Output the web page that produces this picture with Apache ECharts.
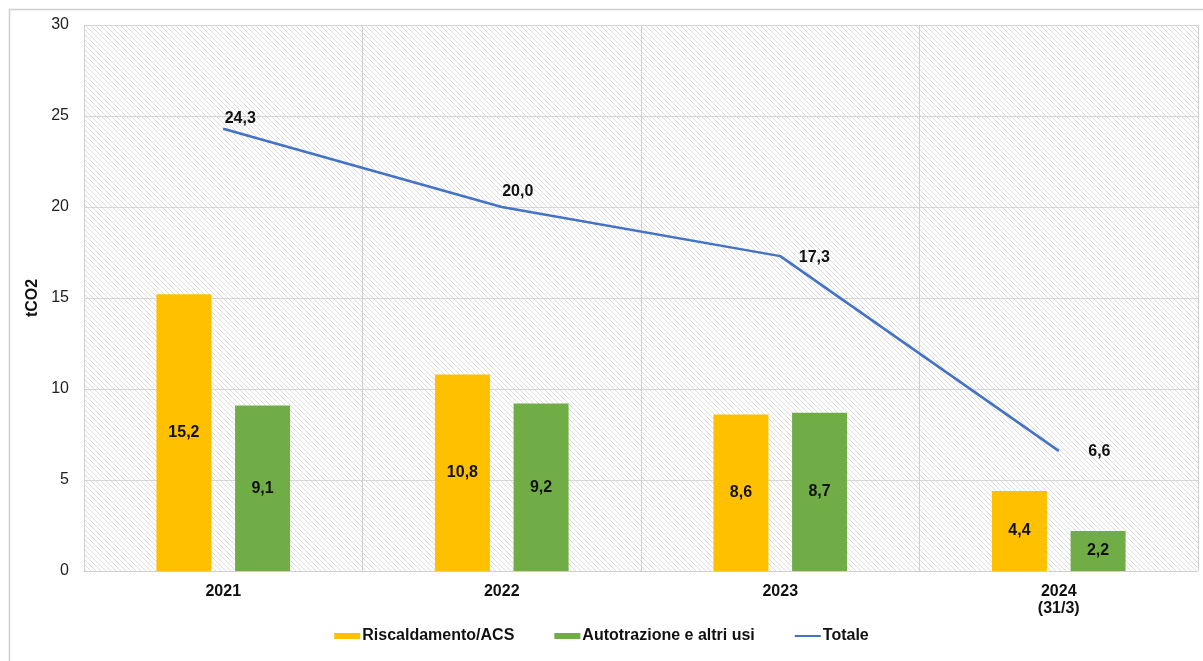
<!DOCTYPE html>
<html>
<head>
<meta charset="utf-8">
<script src="https://cdn.jsdelivr.net/npm/echarts@6/dist/echarts.min.js"></script>
<style>
html,body{margin:0;padding:0;background:#fff;}
#chart{width:1203px;height:661px;}
</style>
</head>
<body>
<div id="chart"></div>
<script>
var categories = ['2021', '2022', '2023', '2024\n(31/3)'];
var riscaldamento = [15.2, 10.8, 8.6, 4.4];
var autotrazione = [9.1, 9.2, 8.7, 2.2];
var totale = [24.3, 20.0, 17.3, 6.6];
var yTicks = [0, 5, 10, 15, 20, 25, 30];

function fmt(v){ return v.toFixed(1).replace('.', ','); }

// hatch pattern
var pc = document.createElement('canvas');
pc.width = 5; pc.height = 5;
var ctx = pc.getContext('2d');
ctx.fillStyle = '#ffffff';
ctx.fillRect(0,0,5,5);
ctx.strokeStyle = '#dcdcdc';
ctx.lineWidth = 1;
ctx.beginPath();
ctx.moveTo(-1,-1); ctx.lineTo(6,6);
ctx.moveTo(-1,4); ctx.lineTo(2,7);
ctx.moveTo(4,-1); ctx.lineTo(7,2);
ctx.stroke();

var lineLabelPos = [
  {position:'top', distance:2, offset:[17,0]},
  {position:'top', distance:7, offset:[16,0]},
  {position:'right', distance:18, offset:[0,1]},
  {position:'right', distance:29, offset:[0,1]}
];

var chart = echarts.init(document.getElementById('chart'));
var font = 'Liberation Sans, Arial, sans-serif';
chart.setOption({
  animation: false,
  textStyle: {fontFamily: font},
  graphic: [{
    type: 'rect', left: 7, top: 7, shape: {width: 1260, height: 700},
    style: {fill: 'none', stroke: '#d0d0d0', lineWidth: 1.5}, silent: true, z: -10
  }],
  grid: {
    left: 84, right: 5, top: 25, bottom: 90,
    show: true, borderWidth: 0,
    backgroundColor: {image: pc, repeat: 'repeat'}
  },
  legend: {
    top: 623, left: 'center', itemWidth: 26, itemHeight: 6, itemGap: 40,
    textStyle: {fontSize: 16, fontWeight: 'bold', color: '#111', fontFamily: font, padding: [0,0,0,-3]},
    data: [
      {name: 'Riscaldamento/ACS', icon: 'rect'},
      {name: 'Autotrazione e altri usi', icon: 'rect'},
      {name: 'Totale', icon: 'path://M0,2 L26,2 L26,4 L0,4 Z', itemStyle: {color: '#4472C4'}}
    ]
  },
  xAxis: {
    type: 'category', data: categories,
    axisLine: {lineStyle: {color: '#d0d0d0'}},
    axisTick: {show: false},
    splitLine: {show: true, interval: 0, lineStyle: {color: '#d0d0d0'}},
    axisLabel: {fontSize: 16, fontWeight: 'bold', color: '#111', margin: 12, lineHeight: 17}
  },
  yAxis: {
    type: 'value', min: yTicks[0], max: yTicks[yTicks.length-1], interval: 5,
    name: 'tCO2', nameLocation: 'middle', nameGap: 30, nameRotate: 90,
    nameTextStyle: {fontSize: 16, fontWeight: 'bold', color: '#111'},
    axisLine: {show: false}, axisTick: {show: false},
    splitLine: {lineStyle: {color: '#d6d6d6'}},
    axisLabel: {fontSize: 16, color: '#222', margin: 15}
  },
  series: [
    {
      name: 'Riscaldamento/ACS', type: 'bar', data: riscaldamento,
      barWidth: 55, barGap: '43%',
      itemStyle: {color: '#FFC000'},
      label: {show: true, position: 'inside', formatter: function(p){return fmt(p.value);},
        fontSize: 16, fontWeight: 'bold', color: '#111'}
    },
    {
      name: 'Autotrazione e altri usi', type: 'bar', data: autotrazione,
      barWidth: 55,
      itemStyle: {color: '#70AD47'},
      label: {show: true, position: 'inside', formatter: function(p){return fmt(p.value);},
        fontSize: 16, fontWeight: 'bold', color: '#111'}
    },
    {
      name: 'Totale', type: 'line',
      data: totale.map(function(v, i){
        return {value: v, label: lineLabelPos[i]};
      }),
      symbol: 'circle', symbolSize: 1, showSymbol: true,
      lineStyle: {color: '#4472C4', width: 2.5},
      itemStyle: {color: '#4472C4'},
      label: {show: true, formatter: function(p){return fmt(p.value);},
        fontSize: 16, fontWeight: 'bold', color: '#111'}
    }
  ]
});
</script>
</body>
</html>
